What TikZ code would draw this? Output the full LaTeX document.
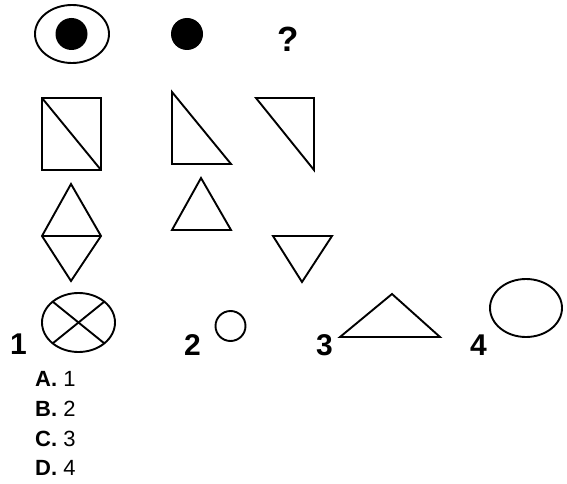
\documentclass[tikz,border=0pt]{standalone}
\usepackage{fontspec}
\setmainfont{Liberation Sans}
\usetikzlibrary{calc}
\begin{document}
\begin{tikzpicture}[x=1pt,y=-1pt,
  figline/.style={draw=black,line width=1.9pt,line join=miter},
  bignum/.style={anchor=base west,inner sep=0pt,font=\fontsize{30}{30}\selectfont\bfseries},
  opt/.style={anchor=base west,inner sep=0pt,font=\fontsize{22}{22}\selectfont}]
\useasboundingbox (0,0) rectangle (567,484);
% row 1
\draw[figline] (72,34) ellipse [x radius=37,y radius=29];
\fill (71.5,34) circle [radius=16];
\fill (187,34) circle [radius=16];
\node[anchor=base west,inner sep=0pt,font=\fontsize{35}{35}\selectfont\bfseries] (q) at (277,52) {?};
% row 2
\draw[figline] (42,98) rectangle (101,170);
\draw[figline] (42,98) -- (101,170);
\draw[figline] (172,92) -- (172,164) -- (231,164) -- cycle;
\draw[figline] (256,98) -- (314,98) -- (314,170) -- cycle;
% row 3
\draw[figline] (71,184) -- (101,236) -- (71,281) -- (42,236) -- cycle;
\draw[figline] (42,236) -- (101,236);
\draw[figline] (201,178) -- (231,230) -- (172,230) -- cycle;
\draw[figline] (273,236) -- (332,236) -- (302,282) -- cycle;
% answers
\node[bignum] (n1) at (10,354) {1};
\draw[figline] (78.5,322.5) ellipse [x radius=36.5,y radius=29.5];
\draw[figline] ($(78.5,322.5)+(135:36.5 and 29.5)$) -- ($(78.5,322.5)+(-45:36.5 and 29.5)$);
\draw[figline] ($(78.5,322.5)+(45:36.5 and 29.5)$) -- ($(78.5,322.5)+(-135:36.5 and 29.5)$);
\node[bignum] (n2) at (184,355) {2};
\draw[figline] (230.5,326) circle [radius=15];
\node[bignum] (n3) at (316,355) {3};
\draw[figline] (340,337) -- (392,294) -- (440,337) -- cycle;
\node[bignum] (n4) at (470,355) {4};
\draw[figline] (526,308) ellipse [x radius=36,y radius=29];
% options
\node[opt] (oa) at (35,386.5) {\textbf{A.} 1};
\node[opt] (ob) at (35,416) {\textbf{B.} 2};
\node[opt] (oc) at (35,446) {\textbf{C.} 3};
\node[opt] (od) at (35,475) {\textbf{D.} 4};
\end{tikzpicture}
\end{document}
